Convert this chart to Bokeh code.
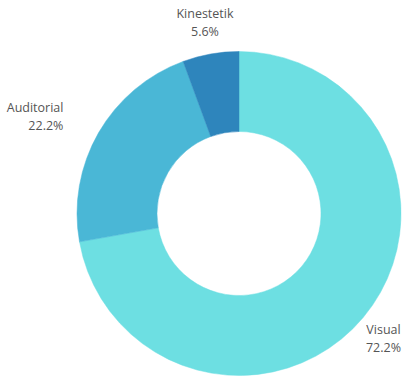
import math
from bokeh.plotting import figure
from bokeh.models import Range1d, ColumnDataSource
from bokeh.core.properties import value
from bokeh.embed import file_html
from bokeh.resources import INLINE

# Data
categories = ["Visual", "Auditorial", "Kinestetik"]
percentages = [72.2, 22.2, 5.6]
colors = ["#6DDFE2", "#4AB7D6", "#2E85BC"]

W, H = 404, 380
cx, cy = 238.5, H - 213
R_out, R_in = 162, 82
label_r = 1.2 * R_out

total = sum(percentages)
starts, ends, lx, ly, laligns, ltexts = [], [], [], [], [], []
cum = 0.0
for cat, pct in zip(categories, percentages):
    a0 = math.pi / 2 - 2 * math.pi * cum / total
    cum += pct
    a1 = math.pi / 2 - 2 * math.pi * cum / total
    starts.append(a0)
    ends.append(a1)
    mid = (a0 + a1) / 2
    dx, dy = math.cos(mid), math.sin(mid)
    x = cx + label_r * dx
    y = cy + label_r * dy
    if dx < -0.8:
        align = "right"
        x -= 7
    elif dx > 0.8:
        align = "left"
    else:
        align = "center"
        x = min(x, W - 21)
    lx.append(x)
    ly.append(y)
    laligns.append(align)
    ltexts.append(f"{cat}\n{pct:.1f}%")

src = ColumnDataSource(dict(start=starts, end=ends, color=colors))
lsrc = ColumnDataSource(dict(x=lx, y=ly, text=ltexts, align=laligns))

p = figure(width=W, height=H, output_backend="svg", toolbar_location=None,
           x_range=Range1d(0, W), y_range=Range1d(0, H), min_border=0)
p.axis.visible = False
p.grid.visible = False
p.outline_line_color = None
p.background_fill_color = "white"
p.border_fill_color = "white"

p.annular_wedge(x=cx, y=cy, inner_radius=R_in, outer_radius=R_out,
                inner_radius_units="screen", outer_radius_units="screen",
                start_angle="start", end_angle="end", direction="clock",
                fill_color="color", line_color="color", line_width=0.5, source=src)

p.text(x="x", y="y", text="text", source=lsrc, text_align="align",
       text_baseline="middle", text_font=value("Open Sans"),
       text_font_size="12.5px", text_color="#555555", text_line_height=1.05)

open("out.html", "w").write(file_html(p, INLINE))
